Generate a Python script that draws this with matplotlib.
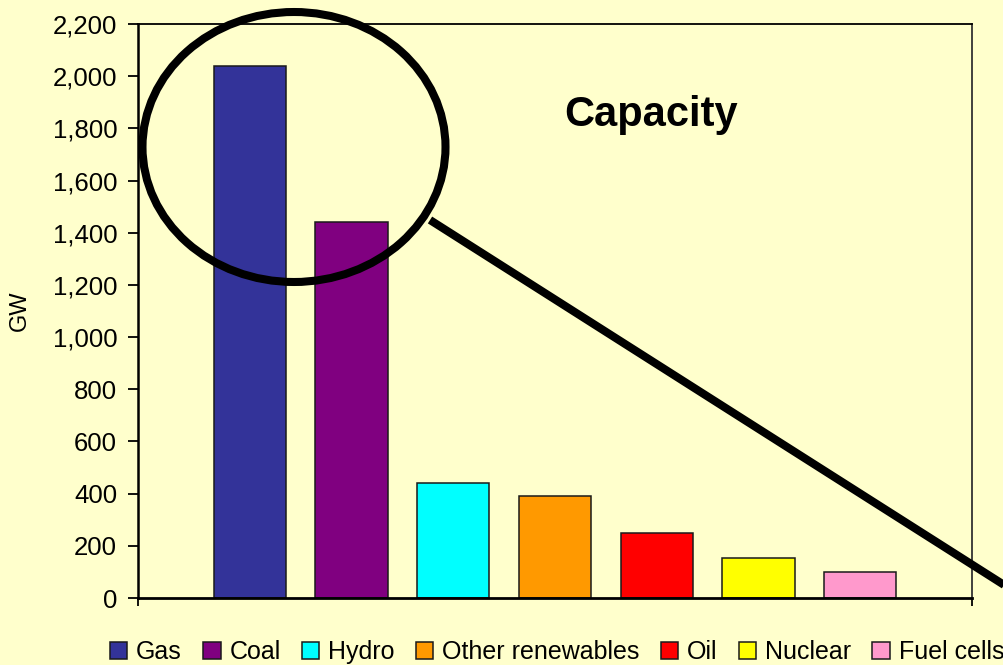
import matplotlib
matplotlib.use("Agg")
import matplotlib.pyplot as plt
from matplotlib.patches import Ellipse, Patch
from matplotlib.lines import Line2D
from matplotlib.ticker import FuncFormatter

# data
categories = ["Gas", "Coal", "Hydro", "Other renewables", "Oil", "Nuclear", "Fuel cells"]
capacity_gw = [2040, 1440, 440, 390, 250, 155, 100]
bar_colors = ["#333399", "#800080", "#00FFFF", "#FF9900", "#FF0000", "#FFFF00", "#FF99CC"]
y_ticks = list(range(0, 2201, 200))

bg = "#FFFFCC"
plt.rcParams['font.family'] = ['Liberation Sans', 'DejaVu Sans']

fig = plt.figure(figsize=(10.04, 6.65), dpi=100, facecolor=bg)
ax = fig.add_axes([138/1004, 1 - 598/665, (972-138)/1004, (598-24)/665])
ax.set_facecolor(bg)

x = list(range(len(categories)))
ax.bar(x, capacity_gw, width=0.71, color=bar_colors, edgecolor="#1a1a1a", linewidth=1.1, zorder=2)

ax.set_xlim(-1.1, len(categories) - 1 + 1.1)
ax.set_ylim(0, 2200)
ax.set_yticks(y_ticks)
ax.yaxis.set_major_formatter(FuncFormatter(lambda v, p: f"{int(v):,}"))
ax.tick_params(axis='y', direction='out', length=7, width=1.3, labelsize=18.5, pad=8)
ax.set_xticks(ax.get_xlim())
ax.set_xticklabels([])
ax.tick_params(axis='x', direction='out', length=6, width=1.3)

ax.spines['left'].set_linewidth(1.8)
ax.spines['bottom'].set_linewidth(2.0)
ax.spines['top'].set_linewidth(1.3)
ax.spines['right'].set_linewidth(1.3)
ax.spines['right'].set_color("#333333")

ax.set_ylabel("GW", fontsize=17)
ax.yaxis.set_label_coords(-0.128, 0.5)

fig.text(651/1004, 1 - 126/665, "Capacity", fontsize=30, fontweight='bold',
         ha='center', va='baseline')

# circle highlighting gas and coal, with pointer line
ell = Ellipse((294/1004, 1 - 147/665), 303/1004, 270/665, transform=fig.transFigure,
              fill=False, edgecolor='black', linewidth=5.8, zorder=5)
fig.patches.append(ell)
pointer = Line2D([430/1004, 1012/1004], [1 - 220/665, 1 - 590/665], transform=fig.transFigure,
                 color='black', linewidth=5.8, solid_capstyle='butt', zorder=5)
fig.lines.append(pointer)

handles = [Patch(facecolor=c, edgecolor="#1a1a1a", linewidth=1.1) for c in bar_colors]
fig.legend(handles, categories, loc='center', bbox_to_anchor=(557/1004, 1 - 652/665),
           ncol=len(categories), frameon=False, fontsize=18, handlelength=0.7,
           handleheight=0.7, handletextpad=0.35, columnspacing=0.85, borderpad=0)

fig.savefig("out.png", dpi=100, facecolor=bg)
